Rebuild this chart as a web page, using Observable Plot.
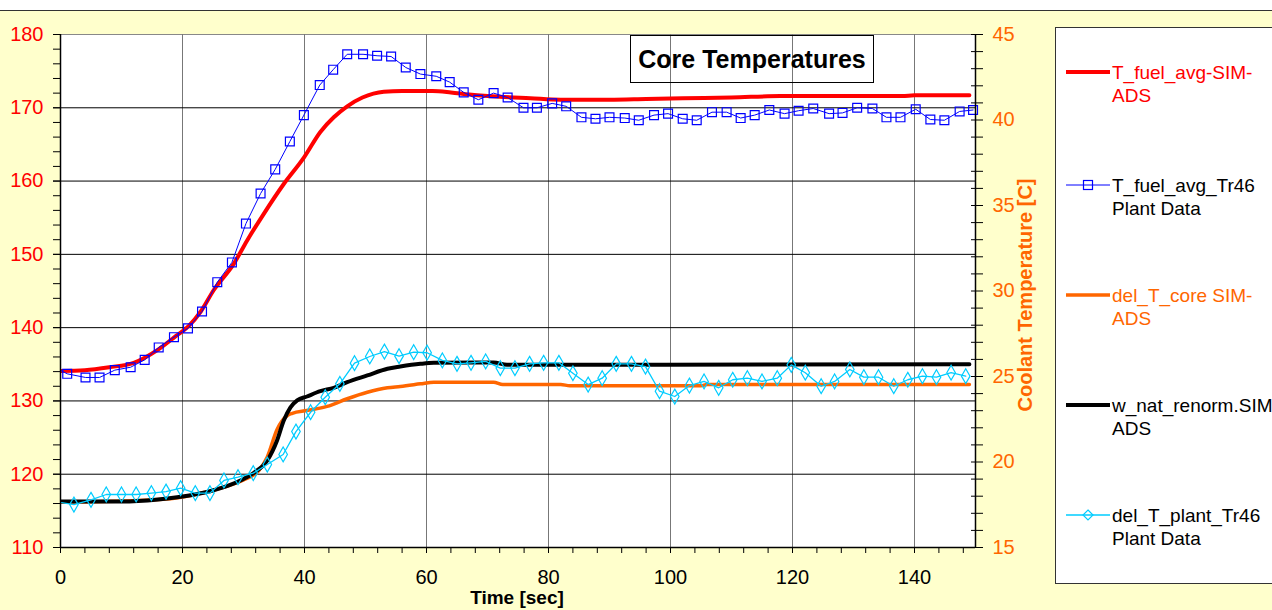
<!DOCTYPE html>
<html>
<head>
<meta charset="utf-8">
<script src="https://cdn.jsdelivr.net/npm/d3@7"></script>
<script src="https://cdn.jsdelivr.net/npm/@observablehq/plot@0.6"></script>
<style>
  html, body { margin: 0; padding: 0; background: #ffffff; }
  #wrap { position: relative; width: 1272px; height: 610px; overflow: hidden;
          font-family: Arial, "Liberation Sans", sans-serif; }
  #bg { position: absolute; left: 0; top: 10px; width: 1272px; height: 600px;
        background: #FFFFCC; border-top: 1.5px solid #333; box-sizing: border-box; }
  #chart { position: absolute; left: 0; top: 0; }
  #overlay { position: absolute; left: 0; top: 0; pointer-events: none; }
</style>
</head>
<body>
<div id="wrap">
  <div id="bg"></div>
  <div id="chart"></div>
  <svg id="overlay" width="1272" height="610"></svg>
</div>
<script>
// ---------------- data ----------------
// T_fuel_avg-SIM-ADS (left axis, deg)
const redT = [0,4,8,12,16,19,21,23,25.1,28.4,30.6,33.3,36.6,39.9,42.6,44.8,47,49.5,53,56,61,64,67,72,77,82,90,96,102,110,118,130,138,140,149];
const redV = [134.1,134.2,134.6,135.2,137.0,138.9,140.2,142.2,145.1,148.7,151.9,155.5,159.6,163.2,166.7,168.7,170.2,171.4,172.2,172.3,172.3,172.1,171.8,171.5,171.3,171.1,171.1,171.2,171.3,171.4,171.6,171.6,171.6,171.7,171.7];

// T_fuel_avg_Tr46 Plant Data (left axis)
const blueT = [-1.2,1.1,4.1,6.4,8.9,11.5,13.8,16.1,18.6,20.9,23.2,
  25.7,28.1,30.4,32.8,35.2,37.6,39.9,42.5,44.7,47.0,49.6,51.9,54.2,
  56.6,59.0,61.6,63.8,66.1,68.5,71.0,73.3,75.9,78.1,80.6,82.9,85.4,87.7,90.0,92.5,94.8,97.3,99.6,102.0,104.3,106.8,109.2,111.5,113.8,116.2,118.7,121.0,
  123.4,126.0,128.2,130.6,133.1,135.4,137.7,140.2,142.6,144.9,147.4,149.6];
const blueV = [134.7,133.7,133.2,133.2,134.2,134.6,135.6,137.3,138.7,139.9,142.2,
  146.2,148.9,154.2,158.3,161.6,165.4,169.0,173.1,175.2,177.3,177.3,177.1,177.0,
  175.5,174.6,174.3,173.5,172.1,171.1,172.0,171.4,170.0,170.0,170.6,170.2,168.7,168.5,168.7,168.6,168.3,169.0,169.2,168.5,168.3,169.4,169.4,168.6,169.0,169.7,169.2,169.6,
  169.9,169.2,169.3,170.0,169.9,168.7,168.7,169.8,168.4,168.3,169.5,169.7];

// del_T_core SIM-ADS (right axis, C)
const orangeT = [0,10,18,22,26,30,32.5,33.9,35.5,37.2,38,40.4,43.7,47,50.3,53.6,55.7,59,61.2,71,72.5,82,83.5,105,106,149];
const orangeV = [17.65,17.72,17.85,18.1,18.45,18.95,19.5,20.3,21.9,22.72,22.85,23.01,23.25,23.7,24.08,24.34,24.42,24.57,24.67,24.67,24.53,24.53,24.46,24.46,24.53,24.53];

// w_nat_renorm.SIM ADS (right axis)
const blackT = [0,10,16,20,24.5,29.5,31.7,33.9,35.5,36.6,37.7,38.8,40.4,42.6,44.8,47,50.3,53.6,55.7,59,61.2,71,73.2,149];
const blackV = [17.69,17.69,17.81,17.98,18.29,18.92,19.37,20.09,21.26,22.43,23.2,23.6,23.83,24.14,24.34,24.67,25.06,25.45,25.58,25.74,25.8,25.82,25.68,25.72];

// del_T_plant_Tr46 Plant Data (right axis)
const cyanT = [-0.2,2.2,5.0,7.5,10.0,12.4,14.9,17.3,19.7,22.1,24.5,26.8,29.1,31.6,33.9,36.5,38.6,41.0,43.4,45.8,48.2,50.7,53.1,55.5,
  57.9,60.1,62.6,65.0,67.3,69.7,72.1,74.5,76.9,79.2,81.7,84.0,86.5,88.8,91.1,93.6,95.9,98.2,100.7,103.1,105.5,107.9,110.2,112.6,115.0,117.5,119.8,
  122.1,124.7,126.9,129.4,131.7,134.1,136.6,138.9,141.3,143.6,146.0,148.4];
const cyanV = [17.65,17.51,17.79,18.10,18.10,18.10,18.18,18.27,18.47,18.18,18.18,18.92,19.11,19.35,19.85,20.44,21.78,22.91,23.79,24.57,25.78,26.17,26.46,26.19,
  26.42,26.39,25.94,25.74,25.80,25.88,25.49,25.49,25.74,25.80,25.80,25.19,24.53,24.90,25.74,25.74,25.58,24.14,23.83,24.47,24.71,24.34,24.81,24.90,24.71,24.90,25.68,
  25.22,24.43,24.71,25.41,24.96,24.96,24.43,24.81,25.02,24.96,25.22,25.02];

// axis ticks
const xMajor = [0,20,40,60,80,100,120,140];
const xMinor = d3.range(0, 151, 4);
const leftMajor = [110,120,130,140,150,160,170,180];
const leftMinor = d3.range(110, 181, 2);
const leftGrid = [120,130,140,150,160,170];
const rightMajor = [15,20,25,30,35,40,45];
const rightMinor = d3.range(15, 46, 1);

// ---------------- helpers ----------------
const toL = c => 110 + (c - 15) * 70 / 30;     // right-axis value -> left-axis scale
const fromL = v => 15 + (v - 110) * 30 / 70;

const zip = (T, V, f = v => v) => T.map((t, i) => ({t, v: f(V[i])}));
const red = zip(redT, redV);
const blue = zip(blueT, blueV);
const orange = zip(orangeT, orangeV, toL);
const black = zip(blackT, blackV, toL);
const cyan = zip(cyanT, cyanV, toL);

const FONT = "Arial, 'Liberation Sans', sans-serif";

const plot = Plot.plot({
  width: 1272, height: 610,
  marginLeft: 60, marginRight: 297, marginTop: 34, marginBottom: 63,
  x: {domain: [0, 150]},
  y: {domain: [110, 180]},
  style: {background: "transparent", fontFamily: FONT, fontSize: "20px", overflow: "visible"},
  marks: [
    Plot.frame({fill: "white", stroke: "#888"}),
    Plot.gridX(xMajor.filter(d => d > 0), {stroke: "#777", strokeOpacity: 1}),
    Plot.gridY(leftGrid, {stroke: "#000", strokeOpacity: 1}),
    Plot.line(red, {x: "t", y: "v", stroke: "#FF0000", strokeWidth: 4, curve: "monotone-x", clip: true}),
    Plot.line(blue, {x: "t", y: "v", stroke: "#0000FF", strokeWidth: 1, clip: true}),
    Plot.dot(blue.filter(d => d.t >= 0), {x: "t", y: "v", symbol: "square", r: 5, stroke: "#0000FF", fill: "none", strokeWidth: 1.2}),
    Plot.line(orange, {x: "t", y: "v", stroke: "#FF6600", strokeWidth: 3.5, curve: "monotone-x", clip: true}),
    Plot.line(black, {x: "t", y: "v", stroke: "#000000", strokeWidth: 4, curve: "monotone-x", clip: true}),
    Plot.line(cyan, {x: "t", y: "v", stroke: "#00CCFF", strokeWidth: 1.3, clip: true}),
    Plot.dot(cyan.filter(d => d.t >= 0), {x: "t", y: "v", symbol: "diamond", r: 4.5, stroke: "#00CCFF", fill: "none", strokeWidth: 1.2}),
    // axis lines
    Plot.ruleX([0], {stroke: "#000", strokeWidth: 1.5}),
    Plot.ruleX([150], {stroke: "#000", strokeWidth: 1.5}),
    Plot.ruleY([110], {stroke: "#000", strokeWidth: 1.5}),
    // left axis
    Plot.axisY(leftMinor, {anchor: "left", tickSize: 7, stroke: "#000", fill: "none", label: null}),
    Plot.axisY(leftMajor, {anchor: "left", tickSize: 7, tickPadding: 10, stroke: "#000", fill: "#FF0000", label: null, fontSize: 20}),
    // bottom axis
    Plot.axisX(xMinor, {anchor: "bottom", tickSize: 6, stroke: "#000", fill: "none", label: null}),
    Plot.axisX(xMajor, {anchor: "bottom", tickSize: 6, tickPadding: 16, stroke: "#000", fill: "#000", label: null, fontSize: 20}),
    // right axis (coolant temperature)
    Plot.axisY(rightMinor.map(toL), {anchor: "right", tickSize: 12, dx: -5, stroke: "#000", fill: "none", label: null}),
    Plot.axisY(rightMajor.map(toL), {anchor: "right", tickSize: 0, tickPadding: 17, stroke: "none", fill: "#FF6600",
      tickFormat: d => String(Math.round(fromL(d))), label: null, fontSize: 20})
  ]
});
document.getElementById("chart").appendChild(plot);

// ---------------- overlay: title, axis labels, legend ----------------
const ov = d3.select("#overlay").style("font-family", FONT);

// title box
ov.append("rect").attr("x", 630.5).attr("y", 35.5).attr("width", 243).attr("height", 47)
  .attr("fill", "none").attr("stroke", "#000").attr("stroke-width", 1);
ov.append("text").attr("x", 752).attr("y", 68).attr("text-anchor", "middle")
  .attr("font-weight", "bold").attr("font-size", 25).attr("fill", "#000").text("Core Temperatures");

// x-axis title
ov.append("text").attr("x", 517).attr("y", 604).attr("text-anchor", "middle")
  .attr("font-weight", "bold").attr("font-size", 19).attr("fill", "#000").text("Time [sec]");

// right axis title
ov.append("text").attr("transform", "translate(1032,295) rotate(-90)").attr("text-anchor", "middle")
  .attr("font-weight", "bold").attr("font-size", 20).attr("fill", "#FF6600").text("Coolant Temperature [C]");

// legend
const legendItems = [
  {l1: "T_fuel_avg-SIM-", l2: "ADS", stroke: "#FF0000", text: "#FF0000", w: 4, sym: null},
  {l1: "T_fuel_avg_Tr46", l2: "Plant Data", stroke: "#0000FF", text: "#000", w: 1, sym: "square"},
  {l1: "del_T_core SIM-", l2: "ADS", stroke: "#FF6600", text: "#FF6600", w: 3.5, sym: null},
  {l1: "w_nat_renorm.SIM", l2: "ADS", stroke: "#000000", text: "#000", w: 4, sym: null},
  {l1: "del_T_plant_Tr46", l2: "Plant Data", stroke: "#00CCFF", text: "#000", w: 1.3, sym: "diamond"}
];
const legendY = [72, 185, 295, 405, 515];

ov.append("rect").attr("x", 1055.5).attr("y", 27.5).attr("width", 260).attr("height", 556)
  .attr("fill", "#fff").attr("stroke", "#333").attr("stroke-width", 1);

legendItems.forEach((d, i) => {
  const y = legendY[i];
  const g = ov.append("g");
  g.append("line").attr("x1", 1066).attr("x2", 1110).attr("y1", y).attr("y2", y)
    .attr("stroke", d.stroke).attr("stroke-width", d.w);
  if (d.sym === "square") {
    g.append("rect").attr("x", 1083.5).attr("y", y - 4.5).attr("width", 9).attr("height", 9)
      .attr("fill", "none").attr("stroke", d.stroke).attr("stroke-width", 1.2);
  } else if (d.sym === "diamond") {
    g.append("path").attr("d", `M1088,${y - 5}L1093,${y}L1088,${y + 5}L1083,${y}Z`)
      .attr("fill", "none").attr("stroke", d.stroke).attr("stroke-width", 1.2);
  }
  g.append("text").attr("x", 1112).attr("y", y + 7).attr("font-size", 19).attr("fill", d.text).text(d.l1);
  g.append("text").attr("x", 1112).attr("y", y + 30).attr("font-size", 19).attr("fill", d.text).text(d.l2);
});
</script>
</body>
</html>
